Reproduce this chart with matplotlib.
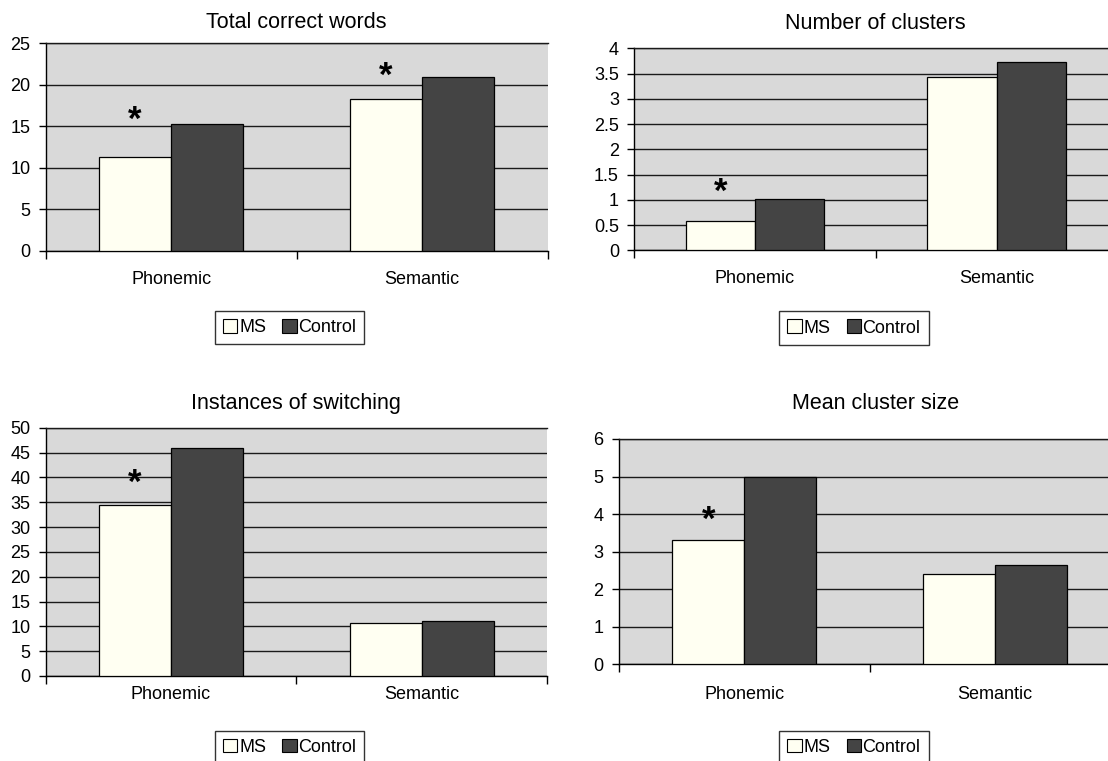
import numpy as np
import matplotlib
matplotlib.use('Agg')
from matplotlib import pyplot as plt
from matplotlib.patches import Patch
from matplotlib.transforms import offset_copy

plt.rcParams['font.family'] = ['Liberation Sans', 'DejaVu Sans']

W, H = 1108, 761

categories = ['Phonemic', 'Semantic']
groups = ['MS', 'Control']
titles = ['Total correct words', 'Number of clusters',
          'Instances of switching', 'Mean cluster size']

ms_values = [[11.3, 18.2], [0.59, 3.43], [34.4, 10.6], [3.30, 2.41]]
control_values = [[15.3, 20.9], [1.02, 3.73], [45.9, 11.1], [5.0, 2.65]]

y_max = [25, 4, 50, 6]
y_step = [5, 0.5, 5, 1]

# significance stars: (category index, height)
stars = [[(0, 16.4), (1, 21.7)], [(0, 1.26)], [(0, 40.1)], [(0, 4.0)]]

ms_color = '#FFFFF2'
control_color = '#444444'
bg_color = '#D9D9D9'
grid_color = '#1a1a1a'

# plot areas in pixels: left, top, right, bottom
boxes = [(45.6, 43.0, 547.5, 250.5),
         (634.2, 48.3, 1117.6, 250.3),
         (45.6, 427.7, 547.0, 676.0),
         (618.9, 439.0, 1120.3, 664.3)]
title_pos = [(296.5, 22.7), (875.6, 23.3), (296.3, 404.0), (875.6, 404.0)]
legend_pos = [(289.8, 327.5), (854.0, 328.0), (289.8, 747.2), (854.0, 747.2)]
xlabel_pad = [14.5, 14.5, 7.0, 15.5]

bar_w = 0.287

fig = plt.figure(figsize=(W / 100, H / 100), dpi=100)

for i in range(4):
    l, t, r, b = boxes[i]
    ax = fig.add_axes([l / W, 1 - b / H, (r - l) / W, (b - t) / H])
    ax.set_facecolor(bg_color)
    x = np.arange(len(categories)) + 0.5
    ax.bar(x - bar_w / 2, ms_values[i], bar_w, color=ms_color,
           edgecolor='black', linewidth=0.9, zorder=3)
    ax.bar(x + bar_w / 2, control_values[i], bar_w, color=control_color,
           edgecolor='black', linewidth=0.9, zorder=3)

    # glyph sits high in its box, nudge it down a little
    star_tr = offset_copy(ax.transData, fig=fig, x=0, y=-6, units='dots')
    for ci, h in stars[i]:
        ax.text(x[ci] - bar_w / 2, h, '*', ha='center', va='center',
                fontsize=25, fontweight='bold', zorder=4, transform=star_tr)

    ax.set_xlim(0, 2)
    ax.set_ylim(0, y_max[i])
    yt = np.arange(0, y_max[i] + y_step[i] / 2, y_step[i])
    ax.set_yticks(yt)
    ax.set_yticklabels(['%g' % v for v in yt])
    ax.yaxis.grid(True, color=grid_color, linewidth=1.0)
    ax.set_axisbelow(True)

    ax.set_xticks([0, 1, 2])
    ax.set_xticklabels([])
    ax.set_xticks(x, minor=True)
    ax.set_xticklabels(categories, minor=True)
    ax.tick_params(axis='x', which='major', length=6, width=1.0, direction='out')
    ax.tick_params(axis='x', which='minor', length=0, pad=xlabel_pad[i], labelsize=13)
    ax.tick_params(axis='y', length=5, width=1.0, direction='out', pad=6, labelsize=13)

    ax.spines['right'].set_visible(False)
    ax.spines['top'].set_color(grid_color)
    ax.spines['top'].set_linewidth(1.0)
    ax.spines['left'].set_linewidth(1.0)
    ax.spines['bottom'].set_linewidth(1.0)

    tx, ty = title_pos[i]
    fig.text(tx / W, 1 - ty / H, titles[i], ha='center', va='center', fontsize=15.5)

    lx, ly = legend_pos[i]
    handles = [Patch(facecolor=ms_color, edgecolor='black', linewidth=0.8),
               Patch(facecolor=control_color, edgecolor='black', linewidth=0.8)]
    leg = fig.legend(handles, groups, loc='center', bbox_to_anchor=(lx / W, 1 - ly / H),
                     ncol=2, frameon=True, fancybox=False, edgecolor='black',
                     handlelength=0.78, handleheight=0.78, handletextpad=0.1,
                     columnspacing=0.9, borderpad=0.45, borderaxespad=0,
                     fontsize=13)
    leg.get_frame().set_linewidth(1.0)

fig.savefig('out.png', dpi=100)
